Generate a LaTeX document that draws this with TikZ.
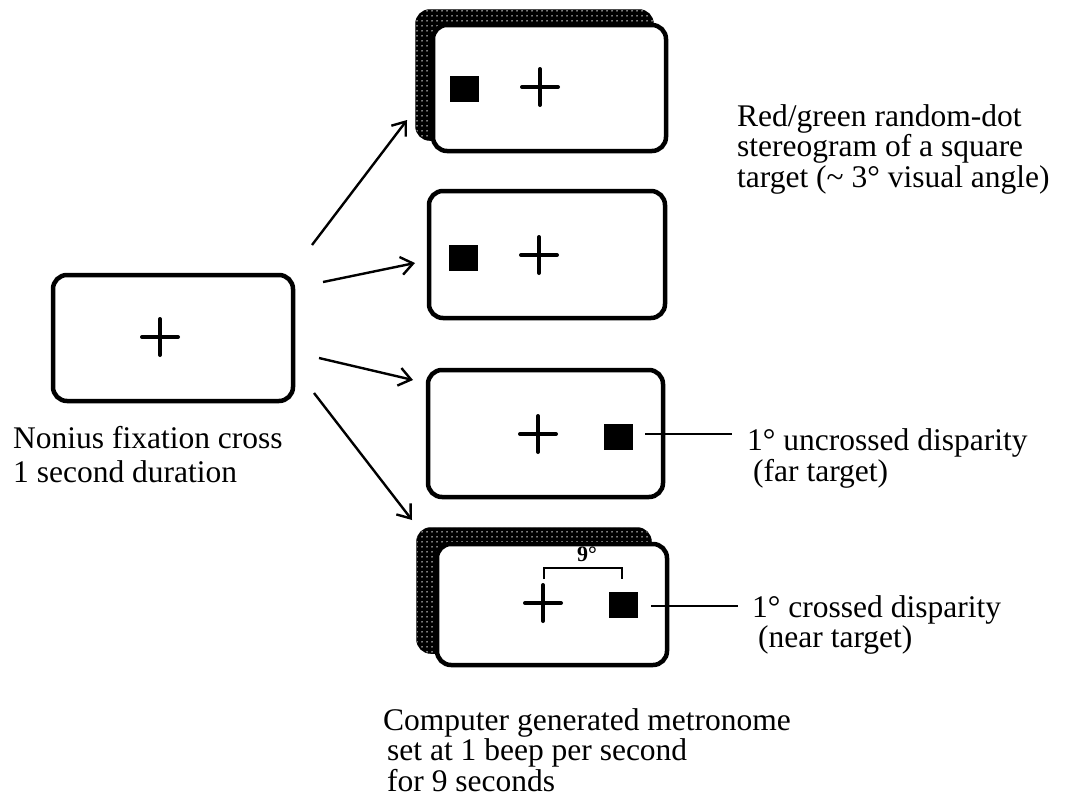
\documentclass[tikz,border=0pt]{standalone}
\usepackage{fontspec}
\setmainfont{Liberation Serif}
\usetikzlibrary{arrows.meta,patterns.meta,backgrounds}
\tikzdeclarepattern{
  name=shdots,
  type=uncolored,
  bottom left={(0pt,0pt)},
  top right={(5pt,5pt)},
  tile size={(5pt,5pt)},
  code={\fill (2.5pt,2.5pt) circle (0.9pt);}
}
\begin{document}
\begin{tikzpicture}[x=1pt,y=-1pt,
  screen/.style={draw, line width=4.5pt, rounded corners=14pt, fill=white, inner sep=0pt},
  target/.style={fill=black, minimum width=29pt, minimum height=26pt, inner sep=0pt},
  arr/.style={line width=2.4pt, -{Straight Barb[length=12pt,width=18pt,line width=2.4pt]}},
  lead/.style={line width=1.3pt},
  txt/.style={inner sep=0pt, anchor=base west},
  fixcross/.pic={\draw[line width=4pt, line cap=round] (-18,0)--(18,0) (0,-18)--(0,18);}
]
\useasboundingbox (0,0) rectangle (1067,803);
% screens
\node[screen, minimum width=240pt, minimum height=126pt] (b0) at (173,338) {};
\node[screen, minimum width=233pt, minimum height=126pt] (b1) at (549.5,88) {};
\node[screen, minimum width=236pt, minimum height=127pt] (b2) at (547,254.5) {};
\node[screen, minimum width=235pt, minimum height=127pt] (b3) at (545.5,433.5) {};
\node[screen, minimum width=230pt, minimum height=121pt] (b4) at (552,604.5) {};
\begin{pgfonlayer}{background}
  \fill[white] (0,0) rectangle (1067,803);
  \path[fill=black, draw=black, line width=1pt, rounded corners=14pt,
        postaction={pattern=shdots, pattern color=white}]
    ([shift={(-15,-13)}]b1.north west) rectangle ([shift={(-15,-13)}]b1.south east);
  \path[fill=black, draw=black, line width=1pt, rounded corners=14pt,
        postaction={pattern=shdots, pattern color=white}]
    ([shift={(-18,-14)}]b4.north west) rectangle ([shift={(-18,-14)}]b4.south east);
\end{pgfonlayer}
% crosses
\pic (c0) at (160,337) {fixcross};
\pic (c1) at (540,87) {fixcross};
\pic (c2) at (539,255) {fixcross};
\pic (c3) at (538,434) {fixcross};
\pic (c4) at (543,603) {fixcross};
% targets
\node[target] (s1) at (464.5,89) {};
\node[target] (s2) at (463,257.5) {};
\node[target] (s3) at (618.5,437) {};
\node[target] (s4) at (623.5,605) {};
% 9 degree bracket
\coordinate (k1) at (544,579);
\coordinate (k2) at (544,568);
\coordinate (k3) at (622,568);
\coordinate (k4) at (622,579);
\draw[lead] (k1) -- (k2) -- (k3) -- (k4);
\node[inner sep=0pt, anchor=base, font=\fontsize{22}{24}\selectfont\bfseries] (deg) at (587,561) {9°};
% arrows
\coordinate (a1s) at (312,245); \coordinate (a1e) at (407,120);
\coordinate (a2s) at (323,282); \coordinate (a2e) at (415,263);
\coordinate (a3s) at (319,358); \coordinate (a3e) at (413,380);
\coordinate (a4s) at (314,393); \coordinate (a4e) at (412,520);
\draw[arr] (a1s) -- (a1e);
\draw[arr] (a2s) -- (a2e);
\draw[arr] (a3s) -- (a3e);
\draw[arr] (a4s) -- (a4e);
% texts
\node[txt, font=\fontsize{31.5}{34}\selectfont] (t0) at (13,448)
  {\begin{tabular}[t]{@{}l@{}}Nonius fixation cross\\1 second duration\end{tabular}};
\node[txt, font=\fontsize{31.5}{29}\selectfont] (t1) at (737,126)
  {\begin{tabular}[t]{@{}l@{}}Red/green random-dot\\stereogram of a square\\target (\textasciitilde{} 3° visual angle)\end{tabular}};
\node[txt, font=\fontsize{31.5}{31}\selectfont] (t3) at (747,450)
  {\begin{tabular}[t]{@{}l@{}}1° uncrossed disparity\\\hspace{6pt}(far target)\end{tabular}};
\node[txt, font=\fontsize{31.5}{30}\selectfont] (t4) at (752,617)
  {\begin{tabular}[t]{@{}l@{}}1° crossed disparity\\\hspace{6pt}(near target)\end{tabular}};
\node[txt, font=\fontsize{31.5}{29.5}\selectfont] (t5) at (383,730)
  {\begin{tabular}[t]{@{}l@{}}Computer generated metronome\\\hspace{4pt}set at 1 beep per second\\\hspace{4pt}for 9 seconds\end{tabular}};
% leader lines
\coordinate (l3a) at (645,434); \coordinate (l3b) at (732,434);
\coordinate (l4a) at (651,606); \coordinate (l4b) at (738,606);
\draw[lead] (l3a) -- (l3b);
\draw[lead] (l4a) -- (l4b);
\end{tikzpicture}
\end{document}
